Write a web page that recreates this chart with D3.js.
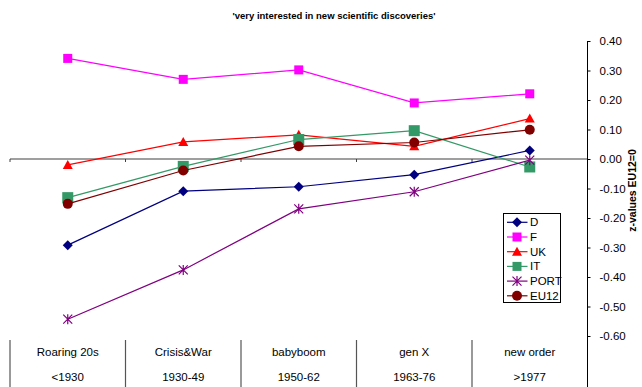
<!DOCTYPE html>
<html>
<head>
<meta charset="utf-8">
<script src="https://cdn.jsdelivr.net/npm/d3@7"></script>
<style>
  html, body { margin: 0; padding: 0; background: #fff; }
  svg { display: block; font-family: "Liberation Sans", Arial, sans-serif; }
</style>
</head>
<body>
<svg id="chart" width="642" height="387"></svg>
<script>
// Cohort categories (two-line labels)
const cohorts = ["Roaring 20s", "Crisis&War", "babyboom", "gen X", "new order"];
const cohortYears = ["<1930", "1930-49", "1950-62", "1963-76", ">1977"];

// z-values relative to EU12 average, per cohort
const seriesNames = ["D", "F", "UK", "IT", "PORT", "EU12"];
const valuesD    = [-0.292, -0.109, -0.094, -0.053, 0.029];
const valuesF    = [0.341, 0.270, 0.302, 0.190, 0.221];
const valuesUK   = [-0.020, 0.058, 0.082, 0.043, 0.137];
const valuesIT   = [-0.131, -0.025, 0.066, 0.096, -0.027];
const valuesPORT = [-0.543, -0.376, -0.169, -0.111, -0.004];
const valuesEU12 = [-0.152, -0.039, 0.043, 0.056, 0.099];

const yTicks = [0.4, 0.3, 0.2, 0.1, 0.0, -0.1, -0.2, -0.3, -0.4, -0.5, -0.6];

const series = [
  { name: "D",    values: valuesD,    color: "#000080", marker: "diamond" },
  { name: "F",    values: valuesF,    color: "#FF00FF", marker: "square" },
  { name: "UK",   values: valuesUK,   color: "#FF0000", marker: "triangle" },
  { name: "IT",   values: valuesIT,   color: "#339966", marker: "bigsquare" },
  { name: "PORT", values: valuesPORT, color: "#800080", marker: "asterisk" },
  { name: "EU12", values: valuesEU12, color: "#800000", marker: "circle" }
];

const svg = d3.select("#chart");

const plotLeft = 10, plotRight = 587.5, plotTop = 41, plotBottom = 336;

const x = d3.scaleBand().domain(cohorts).range([plotLeft, plotRight]).padding(0);
const y = d3.scaleLinear().domain([-0.6, 0.4]).range([plotBottom, plotTop]);
const cx = c => x(c) + x.bandwidth() / 2;

const fmt = d3.formatLocale({ decimal: ".", thousands: ",", grouping: [3], currency: ["", ""], minus: "-" }).format(".2f");

// Title
svg.append("text")
  .attr("x", 334).attr("y", 19)
  .attr("text-anchor", "middle")
  .attr("font-size", "9.5px").attr("font-weight", "bold")
  .attr("fill", "#000")
  .text("'very interested in new scientific discoveries'");

// Zero line with category ticks
svg.append("line")
  .attr("x1", plotLeft).attr("x2", plotRight)
  .attr("y1", y(0)).attr("y2", y(0))
  .attr("stroke", "#404040").attr("stroke-width", 1.2);

cohorts.forEach(c => {
  svg.append("line")
    .attr("x1", x(c)).attr("x2", x(c))
    .attr("y1", y(0)).attr("y2", y(0) + 3)
    .attr("stroke", "#404040").attr("stroke-width", 1);
});

// Category label table below the plot
const catG = svg.append("g");
cohorts.forEach((c, i) => {
  catG.append("line")
    .attr("x1", x(c)).attr("x2", x(c))
    .attr("y1", 340).attr("y2", 387)
    .attr("stroke", "#555").attr("stroke-width", 1.2);
  catG.append("text")
    .attr("x", cx(c)).attr("y", 356)
    .attr("text-anchor", "middle").attr("font-size", "11.5px")
    .text(c);
  catG.append("text")
    .attr("x", cx(c)).attr("y", 381)
    .attr("text-anchor", "middle").attr("font-size", "11.5px")
    .text(cohortYears[i]);
});

// Right value axis
const yAxis = d3.axisRight(y).tickValues(yTicks).tickSize(3).tickPadding(9).tickFormat(fmt);
const axG = svg.append("g").attr("transform", `translate(${plotRight},0)`).call(yAxis);
axG.select(".domain").remove();
axG.selectAll(".tick line").attr("stroke", "#000");
axG.selectAll(".tick text").attr("font-size", "11.5px").attr("font-family", "Liberation Sans, Arial, sans-serif").attr("fill", "#000");
svg.append("line")
  .attr("x1", plotRight).attr("x2", plotRight)
  .attr("y1", plotTop).attr("y2", 387)
  .attr("stroke", "#000").attr("stroke-width", 1);

svg.append("text")
  .attr("transform", `translate(636,${(plotTop + plotBottom) / 2 + 2}) rotate(-90)`)
  .attr("text-anchor", "middle")
  .attr("font-size", "10.5px").attr("font-weight", "bold")
  .text("z-values EU12=0");

// Marker drawing
function drawMarker(g, type, color, px, py) {
  if (type === "diamond") {
    g.append("path").attr("d", `M${px},${py - 5}L${px + 5},${py}L${px},${py + 5}L${px - 5},${py}Z`).attr("fill", color);
  } else if (type === "square") {
    g.append("rect").attr("x", px - 4.5).attr("y", py - 4.5).attr("width", 9).attr("height", 9).attr("fill", color);
  } else if (type === "bigsquare") {
    g.append("rect").attr("x", px - 5.5).attr("y", py - 5.5).attr("width", 11).attr("height", 11).attr("fill", color);
  } else if (type === "triangle") {
    g.append("path").attr("d", `M${px},${py - 5}L${px + 5},${py + 4}L${px - 5},${py + 4}Z`).attr("fill", color);
  } else if (type === "circle") {
    g.append("circle").attr("cx", px).attr("cy", py).attr("r", 5).attr("fill", color);
  } else if (type === "asterisk") {
    const s = 4.5;
    g.append("path")
      .attr("d", `M${px - s},${py - s}L${px + s},${py + s}M${px + s},${py - s}L${px - s},${py + s}M${px},${py - s - 0.5}L${px},${py + s + 0.5}`)
      .attr("stroke", color).attr("stroke-width", 1.2).attr("fill", "none");
  }
}

// Series lines and markers
const line = d3.line().x((d, i) => cx(cohorts[i])).y(d => y(d));
series.forEach(s => {
  const g = svg.append("g");
  g.append("path").datum(s.values)
    .attr("d", line)
    .attr("fill", "none").attr("stroke", s.color).attr("stroke-width", 1.2);
  s.values.forEach((v, i) => drawMarker(g, s.marker, s.color, cx(cohorts[i]), y(v)));
});

// Legend
const lg = svg.append("g");
lg.append("rect")
  .attr("x", 503.5).attr("y", 213.5).attr("width", 57).attr("height", 89)
  .attr("fill", "#fff").attr("stroke", "#000").attr("stroke-width", 1);
series.forEach((s, i) => {
  const ly = 222.3 + i * 14.7;
  lg.append("line").attr("x1", 507).attr("x2", 527.5).attr("y1", ly).attr("y2", ly)
    .attr("stroke", s.color).attr("stroke-width", 1.2);
  drawMarker(lg, s.marker === "bigsquare" ? "square" : s.marker, s.color, 517, ly);
  lg.append("text").attr("x", 530).attr("y", ly + 4).attr("font-size", "11.5px").text(s.name);
});
</script>
</body>
</html>
